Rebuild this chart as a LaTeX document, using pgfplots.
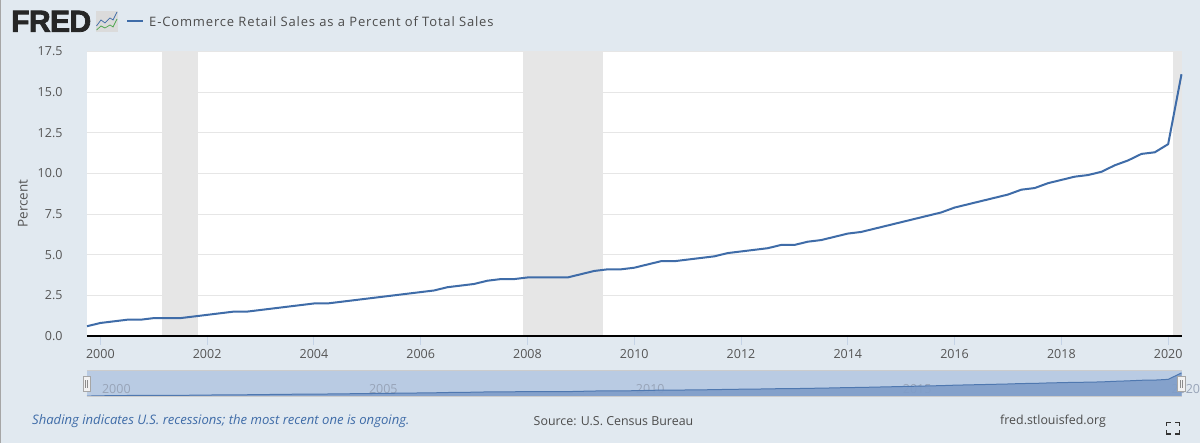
\documentclass[border=0pt]{standalone}
\usepackage{fontspec}
\setmainfont{Open Sans}
\newfontfamily\logofont[FakeBold=2.5,LetterSpace=-2]{Liberation Sans Bold}
\usepackage{graphicx}
\usepackage{pgfplots}
\usepackage{pgfplotstable}
\pgfplotsset{compat=1.18}

\definecolor{fredbg}{HTML}{E1E9F0}
\definecolor{fredline}{HTML}{3F6CA8}
\definecolor{recess}{HTML}{E6E6E6}
\definecolor{tickblue}{HTML}{C5D3E6}
\definecolor{navbg}{HTML}{B9CBE3}
\definecolor{navfill}{HTML}{7F9DC9}
\definecolor{navline}{HTML}{4F78B0}
\definecolor{navtext}{HTML}{98A4B8}
\definecolor{txt}{HTML}{555555}

% quarterly values, percent
\pgfplotstableread{
t pct
1999.75 0.6
2000.00 0.8
2000.25 0.9
2000.50 1.0
2000.75 1.0
2001.00 1.1
2001.25 1.1
2001.50 1.1
2001.75 1.2
2002.00 1.3
2002.25 1.4
2002.50 1.5
2002.75 1.5
2003.00 1.6
2003.25 1.7
2003.50 1.8
2003.75 1.9
2004.00 2.0
2004.25 2.0
2004.50 2.1
2004.75 2.2
2005.00 2.3
2005.25 2.4
2005.50 2.5
2005.75 2.6
2006.00 2.7
2006.25 2.8
2006.50 3.0
2006.75 3.1
2007.00 3.2
2007.25 3.4
2007.50 3.5
2007.75 3.5
2008.00 3.6
2008.25 3.6
2008.50 3.6
2008.75 3.6
2009.00 3.8
2009.25 4.0
2009.50 4.1
2009.75 4.1
2010.00 4.2
2010.25 4.4
2010.50 4.6
2010.75 4.6
2011.00 4.7
2011.25 4.8
2011.50 4.9
2011.75 5.1
2012.00 5.2
2012.25 5.3
2012.50 5.4
2012.75 5.6
2013.00 5.6
2013.25 5.8
2013.50 5.9
2013.75 6.1
2014.00 6.3
2014.25 6.4
2014.50 6.6
2014.75 6.8
2015.00 7.0
2015.25 7.2
2015.50 7.4
2015.75 7.6
2016.00 7.9
2016.25 8.1
2016.50 8.3
2016.75 8.5
2017.00 8.7
2017.25 9.0
2017.50 9.1
2017.75 9.4
2018.00 9.6
2018.25 9.8
2018.50 9.9
2018.75 10.1
2019.00 10.5
2019.25 10.8
2019.50 11.2
2019.75 11.3
2020.00 11.8
2020.25 16.1
}\ecom

\begin{document}
\begin{tikzpicture}[x=1pt,y=1pt]
\useasboundingbox (0,0) rectangle (1200,443);
\fill[fredbg] (0,0) rectangle (1200,443);
\fill[gray!70] (0,0) rectangle (1.2,443);

% logo and legend
\node[anchor=south west,inner sep=0pt] at (11,411) {\resizebox{80pt}{21pt}{\logofont\color{black!85}FRED}};
\fill[black!14] (96,411) rectangle (118,431.5);
\draw[fredline,line width=0.7pt] (96.5,417) -- (101,423) -- (105,420) -- (110,425) -- (113,423) -- (117,431);
\draw[green!50!black!70,line width=0.7pt] (96.5,413) -- (101,417) -- (105,415) -- (110,418) -- (113,416) -- (117,424);
\draw[fredline,line width=1.6pt] (127,422) -- (143,422);
\node[anchor=west,inner sep=0pt,text=black!70] at (149,421.5) {\fontsize{13}{15}\selectfont\addfontfeature{LetterSpace=6.5}E-Commerce Retail Sales as a Percent of Total Sales};

\begin{axis}[
    at={(87pt,107pt)}, anchor=south west,
    scale only axis, width=1094.5pt, height=284.5pt,
    xmin=1999.75, xmax=2020.25, ymin=0, ymax=17.5,
    axis x line=bottom, axis y line=left,
    axis line style={draw=none,-},
    clip=false,
    xtick={2000,2002,...,2020}, ytick={0,2.5,...,17.5},
    xticklabel style={/pgf/number format/1000 sep={},/pgf/number format/assume math mode=true,text=txt,font=\fontsize{12.5}{15}\selectfont,yshift=-1pt},
    yticklabel style={/pgf/number format/fixed,/pgf/number format/fixed zerofill,/pgf/number format/precision=1,/pgf/number format/assume math mode=true,text=txt,font=\fontsize{12.5}{15}\selectfont,xshift=-12pt},
    ymajorgrids, grid style={recess,line width=1pt},
    x tick style={draw=tickblue,line width=1pt},
    major tick length=9pt, y tick style={draw=none},
    tick align=outside,
    every axis y label/.style={at={(rel axis cs:-0.0585,0.466)},rotate=90,anchor=center},
    ylabel={\fontsize{13.5}{15}\selectfont\color{txt}Percent},
    axis background/.style={fill=white},
]
% recessions
\addplot[fill=recess,draw=none] coordinates {(2001.15,0)(2001.15,17.5)(2001.82,17.5)(2001.82,0)} -- cycle;
\addplot[fill=recess,draw=none] coordinates {(2007.915,0)(2007.915,17.5)(2009.415,17.5)(2009.415,0)} -- cycle;
\addplot[fill=recess,draw=none] coordinates {(2020.09,0)(2020.09,17.5)(2020.25,17.5)(2020.25,0)} -- cycle;
\addplot[fredline,line width=2pt,line join=round] table[x=t,y=pct] {\ecom};
\addplot[black,line width=2pt] coordinates {(1999.75,0)(2020.25,0)};
\end{axis}

% navigator
\begin{axis}[
    at={(87pt,46pt)}, anchor=south west,
    scale only axis, width=1094.5pt, height=26pt,
    xmin=1999.75, xmax=2020.25, ymin=0, ymax=17.4,
    hide axis, clip=false,
]
\addplot[fill=navbg,draw=none] coordinates {(1999.75,0)(1999.75,17.4)(2020.25,17.4)(2020.25,0)} -- cycle;
\addplot[draw=black!20,line width=1pt] coordinates {(1999.75,17.4)(2020.25,17.4)};
\node[text=navtext,font=\fontsize{12.5}{15}\selectfont] at (axis cs:2000.3,5.5) {2000};
\node[text=navtext,font=\fontsize{12.5}{15}\selectfont] at (axis cs:2005.3,5.5) {2005};
\node[text=navtext,font=\fontsize{12.5}{15}\selectfont] at (axis cs:2010.3,5.5) {2010};
\node[text=navtext,font=\fontsize{12.5}{15}\selectfont] at (axis cs:2015.3,5.5) {2015};
\node[text=navtext,font=\fontsize{12.5}{15}\selectfont] at (axis cs:2020.33,5.5) {2020};
\addplot[fill=navfill,fill opacity=0.9,draw=none] table[x=t,y=pct] {\ecom} \closedcycle;
\addplot[navline,line width=1pt] table[x=t,y=pct] {\ecom};
\addplot[draw=black!20,line width=1pt] coordinates {(1999.75,0)(2020.25,0)};
\end{axis}

% navigator handles
\foreach \hx in {86.5,1181.4} {
  \filldraw[fill=white!95!black,draw=black!35,line width=0.8pt] (\hx-3.6,51.3) rectangle (\hx+3.6,67);
  \draw[black!45,line width=0.6pt] (\hx-1,55) -- (\hx-1,63) (\hx+1,55) -- (\hx+1,63);
}

% footer
\node[anchor=west,inner sep=0pt,text=fredline] at (32,22) {\fontsize{13.1}{15}\selectfont\itshape Shading indicates U.S. recessions; the most recent one is ongoing.};
\node[anchor=west,inner sep=0pt,text=black!70] at (533.5,22) {\fontsize{12.4}{15}\selectfont Source: U.S. Census Bureau};
\node[anchor=west,inner sep=0pt,text=black!70] at (1000,22) {\fontsize{12.4}{15}\selectfont fred.stlouisfed.org};

% fullscreen icon
\draw[black!80,line width=1.5pt]
  (1166.7,17) |- (1170.7,20.7)  (1175.3,20.7) -| (1179.3,17)
  (1166.7,13) |- (1170.7,9)  (1175.3,9) -| (1179.3,13);
\end{tikzpicture}
\end{document}
